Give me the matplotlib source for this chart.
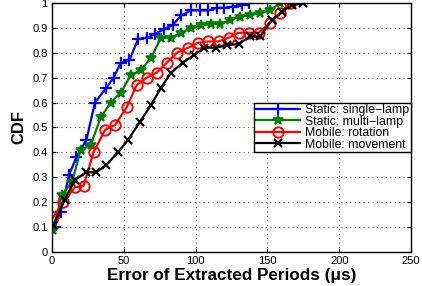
import numpy as np
import matplotlib
matplotlib.use("Agg")
import matplotlib.pyplot as plt

plt.rcParams['font.family'] = ['Liberation Sans', 'DejaVu Sans']

# Static: single-lamp
x_single = [2, 6, 12, 17, 24, 30, 38, 43, 48, 54, 60, 66, 72, 78, 84, 90, 97, 103, 109, 115, 120, 126, 132, 137]
y_single = [0.10, 0.16, 0.31, 0.38, 0.45, 0.60, 0.66, 0.70, 0.76, 0.77, 0.855, 0.86, 0.875, 0.895, 0.91, 0.95,
            0.97, 0.97, 0.97, 0.98, 0.98, 0.985, 0.99, 1.0]

# Static: multi-lamp
x_multi = [1, 7, 14, 20, 27, 34, 41, 48, 55, 62, 69, 76, 83, 90, 97, 104, 111, 117, 124, 131, 138, 145, 152, 159]
y_multi = [0.09, 0.23, 0.28, 0.41, 0.43, 0.54, 0.60, 0.64, 0.71, 0.73, 0.78, 0.86, 0.86, 0.88, 0.90, 0.91,
           0.915, 0.915, 0.93, 0.945, 0.95, 0.96, 0.97, 1.0]

# Mobile: rotation
x_rot = [1, 8, 16, 22, 29, 37, 44, 52, 59, 66, 73, 80, 87, 95, 102, 109, 116, 123, 130, 137, 144, 152, 159, 166]
y_rot = [0.14, 0.20, 0.26, 0.265, 0.40, 0.49, 0.51, 0.58, 0.67, 0.70, 0.72, 0.76, 0.80, 0.82, 0.84, 0.845,
         0.845, 0.86, 0.88, 0.88, 0.88, 0.92, 0.96, 1.0]

# Mobile: movement
x_mov = [1, 9, 16, 24, 31, 38, 46, 53, 61, 69, 76, 83, 91, 99, 106, 114, 122, 130, 138, 145, 153, 160, 167, 175]
y_mov = [0.11, 0.21, 0.29, 0.32, 0.32, 0.35, 0.40, 0.45, 0.52, 0.59, 0.66, 0.72, 0.76, 0.79, 0.82, 0.82,
         0.83, 0.835, 0.865, 0.865, 0.93, 0.965, 0.99, 1.0]

fig = plt.figure(figsize=(4.22, 2.86), dpi=100)
ax = fig.add_axes([0.123, 0.119, 0.851, 0.871])

lw = 1.6
ax.plot(x_single, y_single, color='blue', marker='+', markersize=8, markeredgewidth=1.6, linewidth=lw,
        label='Static: single\u2212lamp')
ax.plot(x_multi, y_multi, color=(0, 0.5, 0), marker='*', markersize=7, markeredgewidth=1.2, linewidth=lw,
        label='Static: multi\u2212lamp')
ax.plot(x_rot, y_rot, color='red', marker='o', markersize=7.5, markerfacecolor='none', markeredgewidth=1.4,
        linewidth=lw, label='Mobile: rotation')
ax.plot(x_mov, y_mov, color='black', marker='x', markersize=5.5, markeredgewidth=1.6, linewidth=lw,
        label='Mobile: movement')

ax.set_xlim(0, 250)
ax.set_ylim(0, 1)
ax.set_xticks(np.arange(0, 251, 50))
ax.set_yticks(np.round(np.arange(0, 1.01, 0.1), 1))
ax.set_yticklabels(['0', '0.1', '0.2', '0.3', '0.4', '0.5', '0.6', '0.7', '0.8', '0.9', '1'])
ax.tick_params(direction='in', top=True, right=True, labelsize=8, length=3, pad=3)
ax.grid(True, linestyle=(0, (1, 3)), color='#666666', linewidth=0.8)
for s in ax.spines.values():
    s.set_linewidth(1.0)

ax.set_xlabel('Error of Extracted Periods (\u03bcs)', fontsize=12.3, fontweight='bold', labelpad=1)
ax.set_ylabel('CDF', fontsize=12, fontweight='bold', labelpad=4)

leg = ax.legend(loc='upper right', bbox_to_anchor=(1.0, 0.6), fontsize=8.8, frameon=True, fancybox=False,
                edgecolor='black', framealpha=1, borderpad=0.15, labelspacing=-0.05, handlelength=3.6,
                handletextpad=0.4, borderaxespad=0)
leg.get_frame().set_linewidth(1.0)

fig.savefig('out.png', dpi=100)
